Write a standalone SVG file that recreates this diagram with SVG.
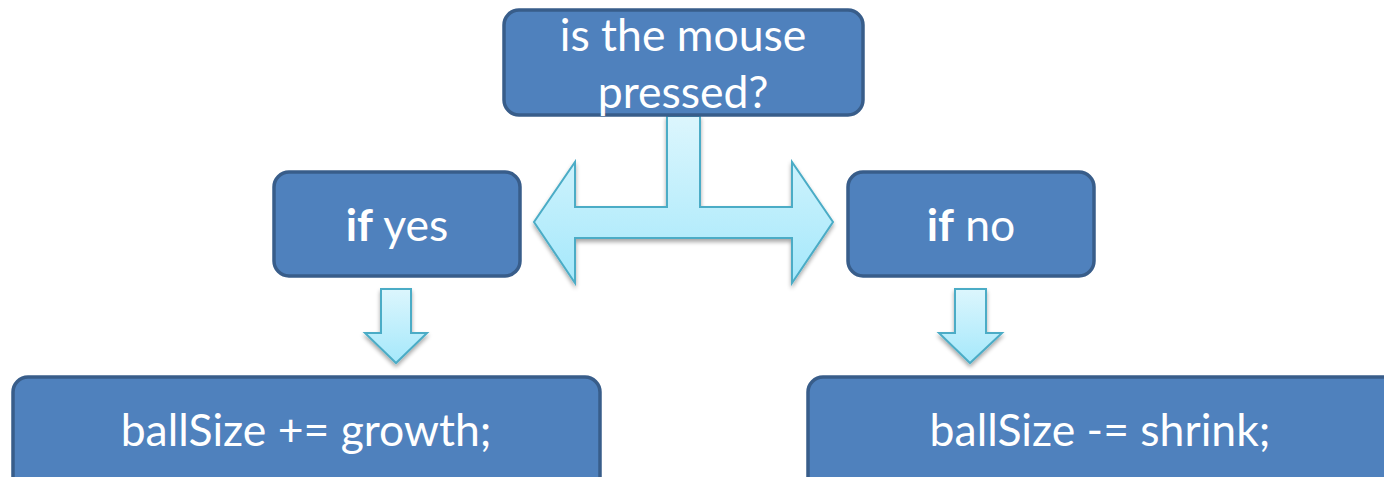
<svg xmlns="http://www.w3.org/2000/svg" width="1384" height="477" viewBox="0 0 1384 477">
<style>
.box{fill:#4f81bd;stroke:#385d8a;stroke-width:3.5}
.t{font-family:Lato,"Liberation Sans",sans-serif;font-size:44.5px;fill:#ffffff;text-anchor:middle}
.arr{fill:url(#g);stroke:#4bacc6;stroke-width:2;filter:url(#sh)}
</style>
<defs>
<linearGradient id="g" x1="0" y1="0" x2="0" y2="1">
<stop offset="0" stop-color="#dcf6fd"/>
<stop offset="1" stop-color="#a5e8fb"/>
</linearGradient>
<filter id="sh" x="-20%" y="-20%" width="140%" height="140%">
<feGaussianBlur in="SourceAlpha" stdDeviation="2"/>
<feOffset dx="0" dy="3" result="o"/>
<feComponentTransfer><feFuncA type="linear" slope="0.35"/></feComponentTransfer>
<feMerge><feMergeNode/><feMergeNode in="SourceGraphic"/></feMerge>
</filter>
</defs>
<g id="connectors">
<path class="arr" d="M667,116 L700,116 L700,207 L792,207 L792,162 L833,222 L792,283 L792,238 L575,238 L575,283 L534,222 L575,162 L575,207 L667,207 Z"/>
<path class="arr" d="M381,289 L411,289 L411,333 L427,333 L396,363 L365,333 L381,333 Z"/>
<path class="arr" d="M955,289 L986,289 L986,333 L1002,333 L970,363 L939,333 L955,333 Z"/>
</g>
<g id="n-question">
<rect class="box" x="504" y="10" width="359" height="105" rx="15"/>
<text class="t" x="683" y="51">is the mouse</text>
<text class="t" x="683" y="108">pressed?</text>
</g>
<g id="n-yes">
<rect class="box" x="274" y="172" width="246" height="104" rx="15"/>
<text class="t" x="397" y="241"><tspan font-weight="bold">if</tspan> yes</text>
</g>
<g id="n-no">
<rect class="box" x="848" y="172" width="246" height="104" rx="15"/>
<text class="t" x="971" y="241"><tspan font-weight="bold">if</tspan> no</text>
</g>
<g id="n-grow">
<rect class="box" x="13" y="377" width="587" height="120" rx="15"/>
<text class="t" x="306" y="446">ballSize += growth;</text>
</g>
<g id="n-shrink">
<rect class="box" x="808" y="377" width="600" height="120" rx="15"/>
<text class="t" x="1100" y="446">ballSize -= shrink;</text>
</g>
</svg>
